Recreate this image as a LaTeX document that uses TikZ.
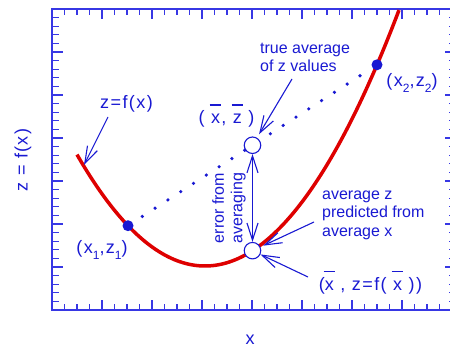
\documentclass[tikz,border=0pt]{standalone}
\usepackage{fontspec}
\setmainfont{Liberation Sans}
\newfontfamily\lblfont[LetterSpace=8]{Liberation Sans}
\usetikzlibrary{arrows.meta}
\definecolor{tblue}{RGB}{25,25,210}
\definecolor{ablue}{RGB}{55,55,228}
\definecolor{cred}{RGB}{222,0,0}
\newcommand\ovb[1]{\leavevmode\rlap{\kern-0.08em\rule[0.98em]{0.62em}{0.08em}}#1}
\newcommand\sbs[1]{\raisebox{-0.35em}{\fontsize{12}{12}\selectfont #1}}
\begin{document}
\begin{tikzpicture}[x=1pt,y=-1pt,
  lbl/.style={text=tblue, font=\lblfont\fontsize{18}{20}\selectfont, inner sep=0pt},
  note/.style={text=tblue, font=\fontsize{16}{18.5}\selectfont, inner sep=0pt, align=left},
  barb/.tip={Straight Barb[length=17pt,width=11pt]},
  conn/.style={draw=tblue, line width=1.1pt, -barb},
  dotm/.style={circle, fill=tblue, minimum size=11pt, inner sep=0pt},
  ring/.style={circle, draw=tblue, fill=white, line width=1.1pt, minimum size=16.5pt, inner sep=0pt},
  axtick/.style={draw=ablue, line width=1.3pt}]
\useasboundingbox (0,0) rectangle (450,350);
\clip (0,0) rectangle (450,350);
\draw[ablue, line width=1.8pt] (52,9) rectangle (455,310);
% minor ticks
\draw[axtick] foreach \i in {0,...,31} {({64.5+12.5*\i},9) -- ++(0,6.5) ({64.5+12.5*\i},310) -- ++(0,-6.5)};
\draw[axtick] foreach \j in {0,...,33} {(52,{17.6+8.6*\j}) -- ++(6.5,0) (455,{17.6+8.6*\j}) -- ++(-6.5,0)};
% major ticks
\draw[axtick] foreach \i in {0,...,7} {({102+50*\i},9) -- ++(0,10.5) ({102+50*\i},310) -- ++(0,-10.5)};
\draw[axtick] foreach \j in {0,...,5} {(52,{52+43*\j}) -- ++(10.5,0) (455,{52+43*\j}) -- ++(-10.5,0)};
% curve
\draw[cred, line width=3.5pt] plot[domain=77:399, samples=120] (\x, {266-0.68*((\x-205)/10)*((\x-205)/10)});
% points
\node[dotm] (p1) at (128,225.7) {};
\node[dotm] (p2) at (377,64.8) {};
\draw[tblue, line width=3.6pt, line cap=round, dash pattern=on 0pt off 15.25pt, shorten <=17pt, shorten >=20pt] (p1.center) -- (p2.center);
\node[ring] (mu) at (252.5,145.25) {};
\node[ring] (ml) at (252.5,250.66) {};
\draw[draw=tblue, line width=1.1pt, barb-barb] (mu) -- (ml);
% labels
\node[lbl, rotate=90] (ylab) at (23,160) {z = f(x)};
\node[lbl, anchor=base] (xlab) at (250,344.5) {x};
\node[lbl, anchor=base] (fl) at (126.5,108.5) {z=f(x)};
\node[lbl, anchor=base] (l1) at (102,253.5) {(x\sbs{1},z\sbs{1})};
\node[lbl, anchor=base] (l2) at (412,86.5) {(x\sbs{2},z\sbs{2})};
\node[lbl, anchor=base] (lu) at (226.5,123.5) {( \ovb{x}, \ovb{z} )};
\node[lbl, anchor=base] (lb) at (370.5,290) {(\ovb{x} , z=f( \ovb{x} ))};
\node[note, anchor=west] (ta) at (260,57.5) {true average\\of z values};
\node[note, anchor=west] (pa) at (322,215.3) {average z\\predicted from\\average x};
\node[note, align=center, rotate=90] (ea) at (229,208) {error from\\averaging};
% connectors
\coordinate (fa) at (108,117);
\coordinate (fb) at (84,165);
\draw[conn] (fa) -- (fb);
\coordinate (tas) at (292,79);
\draw[conn, shorten >=4pt] (tas) -- (mu);
\coordinate (pas) at (314,222);
\draw[conn, shorten >=3pt] (pas) -- (ml);
\coordinate (xas) at (308,277);
\draw[conn] (xas) -- (ml);
\end{tikzpicture}
\end{document}
